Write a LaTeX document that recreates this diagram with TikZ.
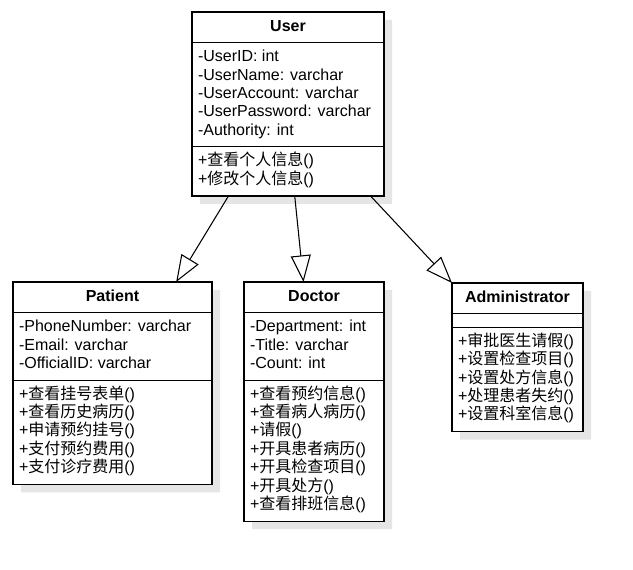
\documentclass[tikz,border=0pt]{standalone}
\usepackage{fontspec}
\setmainfont{Liberation Sans}
\newfontfamily\zh{Noto Sans CJK SC}
\usepackage{tikz}
\usetikzlibrary{arrows.meta,calc,positioning,shadows,shapes.multipart}
\newcommand{\head}[1]{\begin{tabular}{@{}c@{}}\textbf{#1}\end{tabular}}
\newcommand{\rows}[1]{\begin{tabular}{@{}l@{}}#1\end{tabular}}
\newcommand{\op}[1]{+\smash{\zh #1}()}
\tikzstyle{umlclass}=[draw, fill=white, rectangle split, rectangle split parts=3,
    rectangle split part align={center,left,left}, inner xsep=4.5pt, inner ysep=4.2pt,
    outer sep=0pt, line width=0.8pt, font=\fontsize{12}{13.8}\selectfont,
    drop shadow={shadow xshift=6pt, shadow yshift=-6pt, fill=black!10, opacity=1}]
\begin{document}
\begin{tikzpicture}[x=0.75pt, y=-0.75pt, >={Triangle[open, length=20pt, width=15pt]}]
                        \useasboundingbox (0,0) rectangle (633,570);
                        \node [umlclass, minimum width=144pt, anchor=north west] (user) at (192,12) {\head{User}
                            \nodepart{second}\rows{-UserID: int\\-UserName: varchar\\-UserAccount: varchar\\-UserPassword: varchar\\-Authority: int}
                            \nodepart{third}\rows{\op{查看个人信息}\\\op{修改个人信息}}};
                        \node [umlclass, minimum width=105pt, below=64.5pt of user.south east, anchor=north east] (doc) {\head{Doctor}
                            \nodepart{second}\rows{-Department: int\\-Title: varchar\\-Count: int}
                            \nodepart{third}\rows{\op{查看预约信息}\\\op{查看病人病历}\\\op{请假}\\\op{开具患者病历}\\\op{开具检查项目}\\\op{开具处方}\\\op{查看排班信息}}};
                        \node [umlclass, minimum width=149.25pt, left=24pt of doc.north west, anchor=north east] (pat) {\head{Patient}
                            \nodepart{second}\rows{-PhoneNumber: varchar\\-Email: varchar\\-OfficialID: varchar}
                            \nodepart{third}\rows{\op{查看挂号表单}\\\op{查看历史病历}\\\op{申请预约挂号}\\\op{支付预约费用}\\\op{支付诊疗费用}}};
                        \node [umlclass, minimum width=98.25pt, right=51pt of doc.north east, anchor=north west, yshift=-0.75pt] (admin) {\head{Administrator}
                            \nodepart{second}\hspace{1pt}\rule{0pt}{1pt}
                            \nodepart{third}\rows{\op{审批医生请假}\\\op{设置检查项目}\\\op{设置处方信息}\\\op{处理患者失约}\\\op{设置科室信息}}};
                        \path[->, line width=0.8pt] ($(user.south west)!.19!(user.south east)$) edge ($(pat.north west)!.82!(pat.north east)$);
                        \path[->, line width=0.8pt] ($(user.south west)!.535!(user.south east)$) edge ($(doc.north west)!.425!(doc.north east)$);
                        \path[->, line width=0.8pt] ($(user.south west)!.93!(user.south east)$) edge (admin.north west);
                    \end{tikzpicture}
\end{document}
